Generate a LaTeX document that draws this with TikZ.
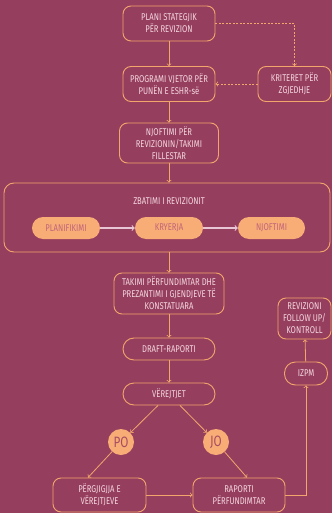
\documentclass[tikz,border=0pt]{standalone}
\usepackage{fontspec}
\setmainfont{Fira Sans}[FakeStretch=0.78]
\usetikzlibrary{arrows, shapes}
\definecolor{bgmaroon}{HTML}{963E5E}
\definecolor{lineorange}{HTML}{F2A66C}
\definecolor{pillorange}{HTML}{F8AD77}
\definecolor{textpink}{HTML}{F3D6DE}
\definecolor{pilltext}{HTML}{C26479}
\definecolor{answertext}{HTML}{A84C62}
\definecolor{arrowpink}{HTML}{E9C6D6}

\tikzset{
  box/.style={draw=lineorange, line width=0.9pt, rounded corners=8pt, align=center, text=textpink, inner sep=0pt, font=\fontsize{9.8}{12}\selectfont},
  pill/.style={fill=pillorange, rounded corners=11pt, align=center, text=pilltext, inner sep=0pt, minimum height=22pt, font=\fontsize{9.8}{12}\selectfont},
  answer/.style={circle, fill=pillorange, text=answertext, inner sep=0pt, minimum size=26pt, font=\fontsize{15}{15}\selectfont},
  flow/.style={->, draw=lineorange, line width=0.8pt},
  hint/.style={->, draw=lineorange, line width=0.8pt, dash pattern=on 2pt off 1.5pt},
}

\begin{document}
\begin{tikzpicture}[x=1pt, y=-1pt, >=to]
\fill[bgmaroon] (0,0) rectangle (332,513);
\useasboundingbox (0,0) rectangle (332,513);

%Planning
\node (plan) at (169,23.5) [box, minimum width=92pt, minimum height=35pt] {PLANI STATEGJIK\\PËR REVIZION};
\node (prog) at (169,84) [box, minimum width=92pt, minimum height=35pt] {PROGRAMI VJETOR PËR\\PUNËN E ESHR-së};
\node (krit) at (294.5,84) [box, minimum width=73pt, minimum height=35pt] {KRITERET PËR\\ZGJEDHJE};
\node (njof) at (169,143) [box, minimum width=99pt, minimum height=40pt] {NJOFTIMI PËR\\REVIZIONIN/TAKIMI\\FILLESTAR};

%Implementation
\node (zbat) at (167,217.5) [box, rounded corners=10pt, minimum width=326pt, minimum height=69pt] {};
\node (zbattitle) at (169,201) [text=textpink, font=\fontsize{9.8}{12}\selectfont] {ZBATIMI I REVIZIONIT};
\node (pla) at (66,228) [pill, minimum width=68pt] {PLANIFIKIMI};
\node (kry) at (169,228) [pill, minimum width=68pt] {KRYERJA};
\node (njo) at (271.5,228) [pill, minimum width=67pt] {NJOFTIMI};

%Reporting
\node (tak) at (169,293.5) [box, minimum width=110pt, minimum height=41pt] {TAKIMI PËRFUNDIMTAR DHE\\PREZANTIMI I GJENDJEVE TË\\KONSTATUARA};
\node (draft) at (169,349) [box, rounded corners=11pt, minimum width=92pt, minimum height=22pt] {DRAFT-RAPORTI};
\node (ver) at (169,394) [box, rounded corners=11pt, minimum width=92pt, minimum height=22pt] {VËREJTJET};
\node (po) at (121,442) [answer] {PO};
\node (jo) at (216,442) [answer] {JO};
\node (perg) at (99.5,495) [box, minimum width=93pt, minimum height=34pt] {PËRGJIGJJA E\\VËREJTJEVE};
\node (rap) at (239,495) [box, minimum width=92pt, minimum height=34pt] {RAPORTI\\PËRFUNDIMTAR};

%Follow up
\node (izpm) at (306,373.5) [box, rounded corners=11pt, minimum width=43pt, minimum height=23pt] {IZPM};
\node (rev) at (304.5,318.5) [box, minimum width=53pt, minimum height=41pt] {REVIZIONI\\FOLLOW UP/\\KONTROLL};

\draw[flow] (plan) -- (prog);
\draw[flow] (prog) -- (njof);
\draw[flow] (njof) -- (njof |- zbat.north);
\draw[flow] (zbat.south -| tak) -- (tak);
\draw[flow] (tak) -- (draft);
\draw[flow] (draft) -- (ver);
\draw[flow] ([xshift=-11pt]ver.south) -- (po);
\draw[flow] ([xshift=11pt]ver.south) -- (jo);
\draw[flow] (po) -- ([xshift=-11.5pt]perg.north);
\draw[flow] (jo) -- ([xshift=8pt]rap.north);
\draw[flow] (perg) -- (rap);
\draw[flow] (rap.east) -| (izpm.south);
\draw[flow] (izpm) -- (rev);

\draw[hint] (plan.east) -| (krit.north);
\draw[hint] (krit) -- (prog);

\draw[->, arrowpink, line width=1.1pt] (pla) -- (kry);
\draw[->, arrowpink, line width=1.1pt] (kry) -- (njo);
\end{tikzpicture}
\end{document}
